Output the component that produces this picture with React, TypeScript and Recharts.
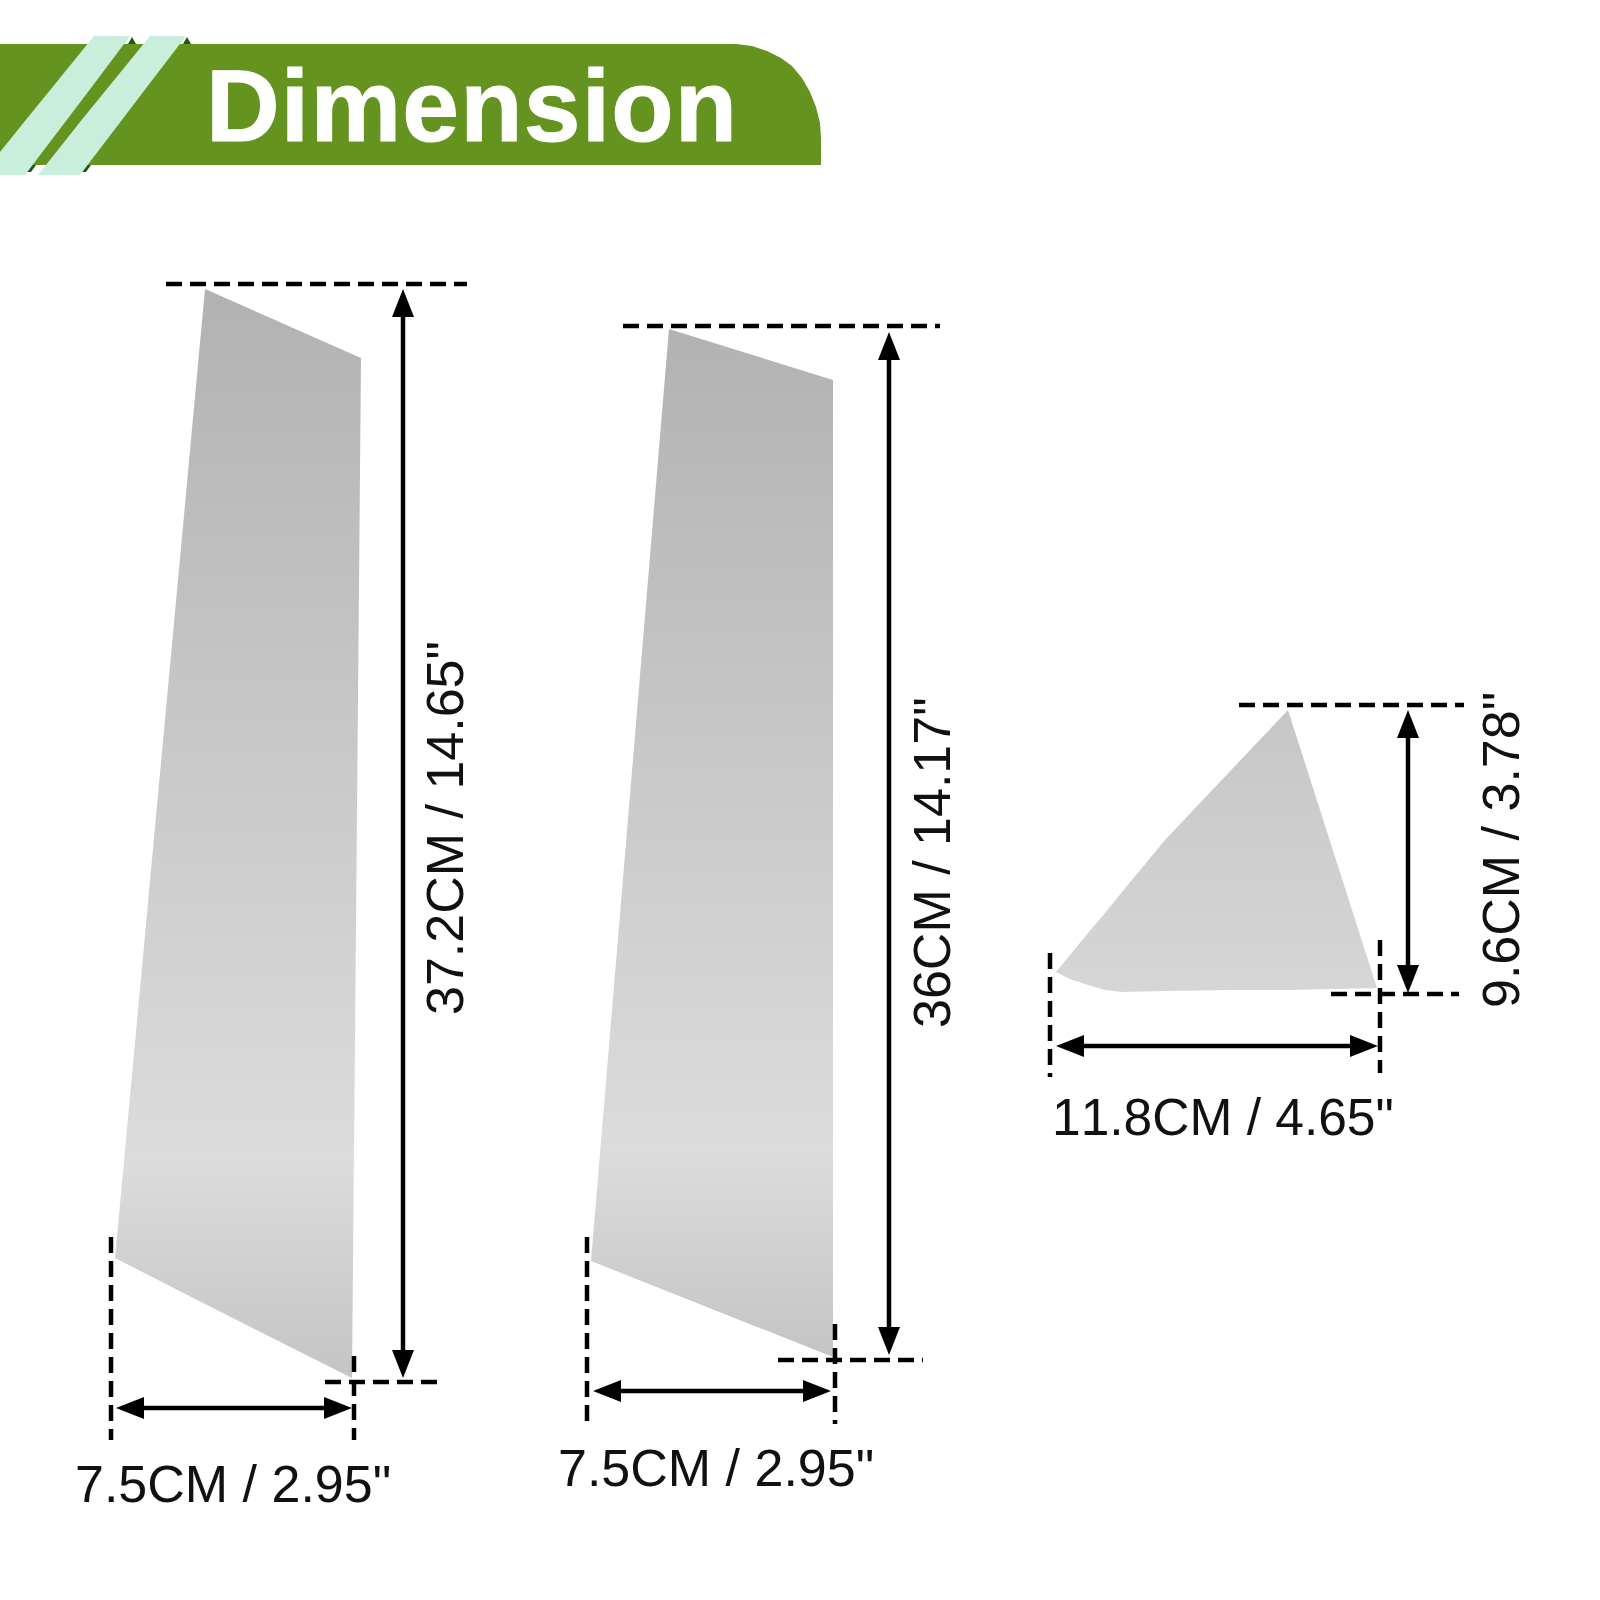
import React from "react";
import { ComposedChart, Area, Line, Scatter, XAxis, YAxis } from "recharts";

const SIZE = 1600;

// ranged outlines: x with [top, bottom] in picture units (0 is the top edge)
const bannerBody = [
  { x: 0, range: [44, 165] },
  { x: 736, range: [44, 165] },
  { x: 752, range: [46, 165] },
  { x: 767, range: [51, 165] },
  { x: 781, range: [58, 165] },
  { x: 792, range: [66, 165] },
  { x: 802, range: [78, 165] },
  { x: 810, range: [92, 165] },
  { x: 816, range: [107, 165] },
  { x: 820, range: [123, 165] },
  { x: 821, range: [138, 165] },
];
const stripeOne = [
  { x: 0, range: [152, 175] },
  { x: 25, range: [121, 175] },
  { x: 94, range: [36, 84] },
  { x: 130, range: [36, 36] },
];
const stripeTwo = [
  { x: 38, range: [175, 175] },
  { x: 80, range: [122, 175] },
  { x: 150, range: [36, 83] },
  { x: 186, range: [36, 36] },
];
const stripeShadows = [
  [{ x: 128, range: [44, 44] }, { x: 132, range: [37, 44] }, { x: 136, range: [44, 44] }],
  [{ x: 183, range: [44, 44] }, { x: 187, range: [37, 44] }, { x: 191, range: [44, 44] }],
  [{ x: 25, range: [172, 172] }, { x: 31, range: [165, 172] }, { x: 36, range: [165, 165] }],
  [{ x: 81, range: [172, 172] }, { x: 86, range: [165, 172] }, { x: 91, range: [165, 165] }],
];

const panelLong = [
  { x: 115, range: [1258, 1258] },
  { x: 205, range: [289, 1304] },
  { x: 352, range: [354, 1378] },
  { x: 361, range: [358, 358] },
];
const panelMid = [
  { x: 591, range: [1261, 1261] },
  { x: 669, range: [329, 1292] },
  { x: 833, range: [380, 1357] },
];
const panelSmall = [
  { x: 1056, range: [972, 972] },
  { x: 1070, range: [955, 979] },
  { x: 1088, range: [933, 985] },
  { x: 1105, range: [913, 990] },
  { x: 1122, range: [892, 992] },
  { x: 1165, range: [840, 991] },
  { x: 1234, range: [767, 990] },
  { x: 1288, range: [710, 990] },
  { x: 1377, range: [988, 988] },
];

// dashed guides as [x1, y1, x2, y2]
const guides = [
  [166, 284, 467, 284],
  [111, 1237, 111, 1440],
  [354, 1356, 354, 1440],
  [325, 1382, 437, 1382],
  [623, 326, 940, 326],
  [587, 1237, 587, 1421],
  [835, 1324, 835, 1424],
  [778, 1360, 923, 1360],
  [1239, 705, 1464, 705],
  [1331, 994, 1459, 994],
  [1050, 953, 1050, 1077],
  [1380, 940, 1380, 1073],
];

// double arrows
const verticalArrows = [
  [403, 289, 1378],
  [889, 332, 1355],
  [1408, 710, 993],
];
const horizontalArrows = [
  [1408, 116, 352],
  [1391, 593, 831],
  [1046, 1056, 1378],
];

const flatLabels = [
  { x: 75, y: 1502, text: '7.5CM / 2.95"' },
  { x: 558, y: 1486, text: '7.5CM / 2.95"' },
];
const wideLabel = [{ x: 1052, y: 1135, text: '11.8CM / 4.65"' }];
const turnedLabels = [
  { x: 463, y: 1015, text: '37.2CM / 14.65"' },
  { x: 950, y: 1028, text: '36CM / 14.17"' },
  { x: 1519, y: 1008, text: '9.6CM / 3.78"' },
];
const titleLabel = [{ x: 206, y: 141, text: "Dimension" }];

const HEAD_LEN = 28;
const HEAD_HALF = 11;

const upHead = (x: number, tip: number) => [
  { x: x - HEAD_HALF, range: [tip + HEAD_LEN, tip + HEAD_LEN] },
  { x, range: [tip, tip + HEAD_LEN] },
  { x: x + HEAD_HALF, range: [tip + HEAD_LEN, tip + HEAD_LEN] },
];
const downHead = (x: number, tip: number) => [
  { x: x - HEAD_HALF, range: [tip - HEAD_LEN, tip - HEAD_LEN] },
  { x, range: [tip - HEAD_LEN, tip] },
  { x: x + HEAD_HALF, range: [tip - HEAD_LEN, tip - HEAD_LEN] },
];
const leftHead = (y: number, tip: number) => [
  { x: tip, range: [y, y] },
  { x: tip + HEAD_LEN, range: [y - HEAD_HALF, y + HEAD_HALF] },
];
const rightHead = (y: number, tip: number) => [
  { x: tip - HEAD_LEN, range: [y - HEAD_HALF, y + HEAD_HALF] },
  { x: tip, range: [y, y] },
];

const arrowHeads = [
  ...verticalArrows.flatMap(([x, a, b]) => [upHead(x, a), downHead(x, b)]),
  ...horizontalArrows.flatMap(([y, a, b]) => [leftHead(y, a), rightHead(y, b)]),
];
const arrowShafts = [
  ...verticalArrows.map(([x, a, b]) => [x, a + 10, x, b - 10]),
  ...horizontalArrows.map(([y, a, b]) => [a + 10, y, b - 10, y]),
];

const toLine = ([x1, y1, x2, y2]: number[]) => [
  { x: x1, y: y1 },
  { x: x2, y: y2 },
];

const labelFont = "'Liberation Sans', Arial, sans-serif";

const FlatLabel = (props: any) => (
  <text
    x={props.cx}
    y={props.cy}
    fontFamily={labelFont}
    fontSize={52}
    fill="#111"
    style={{ fontKerning: "none" }}
  >
    {props.payload.text}
  </text>
);
const WideLabel = (props: any) => (
  <text
    x={props.cx}
    y={props.cy}
    fontFamily={labelFont}
    fontSize={51.5}
    fill="#111"
    style={{ fontKerning: "none" }}
  >
    {props.payload.text}
  </text>
);
const TurnedLabel = (props: any) => (
  <text
    x={props.cx}
    y={props.cy}
    transform={`rotate(-90 ${props.cx} ${props.cy})`}
    fontFamily={labelFont}
    fontSize={52}
    fill="#111"
    style={{ fontKerning: "none" }}
  >
    {props.payload.text}
  </text>
);
const TitleLabel = (props: any) => (
  <text
    x={props.cx}
    y={props.cy}
    fontFamily={labelFont}
    fontWeight="bold"
    fontSize={102}
    letterSpacing={1.2}
    fill="#ffffff"
    stroke="#ffffff"
    strokeWidth={1}
  >
    {props.payload.text}
  </text>
);

const shape = (data: any[], fill: string, key: string) => (
  <Area
    key={key}
    data={data}
    dataKey="range"
    type="linear"
    fill={fill}
    fillOpacity={1}
    stroke="none"
    dot={false}
    activeDot={false}
    isAnimationActive={false}
  />
);

export default function App() {
  return (
    <div style={{ position: "absolute", left: 0, top: 0, width: SIZE, height: SIZE, background: "#fff" }}>
      <ComposedChart width={SIZE} height={SIZE} margin={{ top: 0, right: 0, bottom: 0, left: 0 }}>
        <defs>
          <linearGradient id="panelA" x1="0" y1="0" x2="0" y2="1">
            <stop offset="0%" stopColor="#b2b2b2" />
            <stop offset="80%" stopColor="#dcdcdc" />
            <stop offset="100%" stopColor="#c4c4c4" />
          </linearGradient>
          <linearGradient id="panelB" x1="0" y1="0" x2="0" y2="1">
            <stop offset="0%" stopColor="#c6c6c6" />
            <stop offset="100%" stopColor="#d6d6d6" />
          </linearGradient>
        </defs>
        <XAxis dataKey="x" type="number" scale="linear" domain={[0, SIZE]} hide allowDataOverflow />
        <YAxis dataKey="y" type="number" scale="linear" domain={[0, SIZE]} reversed hide allowDataOverflow />

        {shape(bannerBody, "#65931f", "banner")}
        {stripeShadows.map((s, i) => shape(s, "#1d5a14", `shadow-${i}`))}
        {shape(stripeOne, "#c9eedb", "stripe-1")}
        {shape(stripeTwo, "#c9eedb", "stripe-2")}

        {shape(panelLong, "url(#panelA)", "panel-long")}
        {shape(panelMid, "url(#panelA)", "panel-mid")}
        {shape(panelSmall, "url(#panelB)", "panel-small")}

        {guides.map((g, i) => (
          <Line
            key={`guide-${i}`}
            data={toLine(g)}
            dataKey="y"
            type="linear"
            stroke="#000"
            strokeWidth={4.5}
            strokeDasharray="16 8"
            dot={false}
            activeDot={false}
            isAnimationActive={false}
          />
        ))}
        {arrowShafts.map((g, i) => (
          <Line
            key={`shaft-${i}`}
            data={toLine(g)}
            dataKey="y"
            type="linear"
            stroke="#000"
            strokeWidth={4.5}
            dot={false}
            activeDot={false}
            isAnimationActive={false}
          />
        ))}
        {arrowHeads.map((h, i) => shape(h, "#000", `head-${i}`))}

        <Scatter data={titleLabel} dataKey="y" shape={TitleLabel} isAnimationActive={false} />
        <Scatter data={flatLabels} dataKey="y" shape={FlatLabel} isAnimationActive={false} />
        <Scatter data={wideLabel} dataKey="y" shape={WideLabel} isAnimationActive={false} />
        <Scatter data={turnedLabels} dataKey="y" shape={TurnedLabel} isAnimationActive={false} />
      </ComposedChart>
    </div>
  );
}
